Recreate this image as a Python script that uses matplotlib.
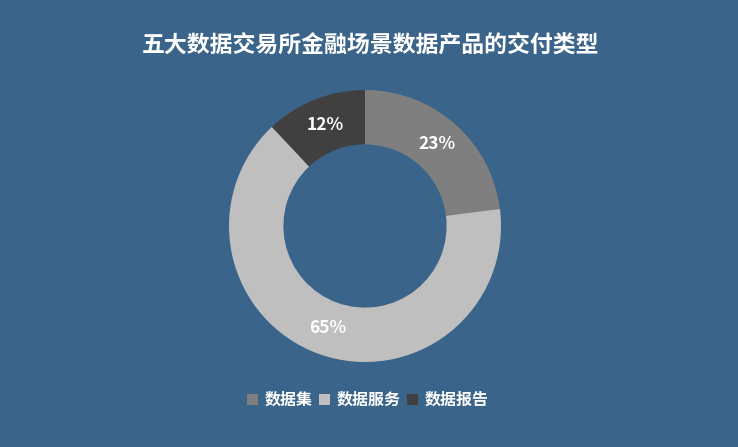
import matplotlib.pyplot as plt
from matplotlib.patches import Patch

plt.rcParams['font.family'] = ['Noto Sans CJK SC', 'DejaVu Sans']

labels = ["数据集", "数据服务", "数据报告"]
values = [23, 65, 12]
colors = ["#7f7f7f", "#bfbfbf", "#404040"]
bg = "#3a6489"

fig = plt.figure(figsize=(7.38, 4.47), dpi=100, facecolor=bg)
W, H = 738, 447
cx, cy, r = 365, 226, 136
ax = fig.add_axes([(cx - r) / W, (H - cy - r) / H, 2 * r / W, 2 * r / H])
ax.set_facecolor(bg)

wedges, texts, autotexts = ax.pie(
    values, colors=colors, startangle=90, counterclock=False,
    autopct=lambda p: f"{p:.0f}%", pctdistance=0.8, radius=1,
    wedgeprops=dict(width=0.4, edgecolor="none"),
    textprops=dict(color="white", fontsize=12.5, fontweight="bold"))
ax.set_xlim(-1, 1)
ax.set_ylim(-1, 1)
ax.set_aspect("equal")
ax.axis("off")

fig.text(371 / W, 1 - 45 / H, "五大数据交易所金融场景数据产品的交付类型",
         ha="center", va="center", color="white", fontsize=16.5, fontweight="bold")

handles = [Patch(facecolor=c, edgecolor="none") for c in colors]
leg = fig.legend(handles, labels, loc="center", bbox_to_anchor=(368 / W, 1 - 400 / H),
                 ncol=3, frameon=False, handlelength=0.7, handleheight=0.7,
                 handletextpad=0.4, columnspacing=0.4,
                 prop=dict(size=11.5, weight="bold"))
for t in leg.get_texts():
    t.set_color("white")

fig.savefig("out.png", facecolor=bg)
